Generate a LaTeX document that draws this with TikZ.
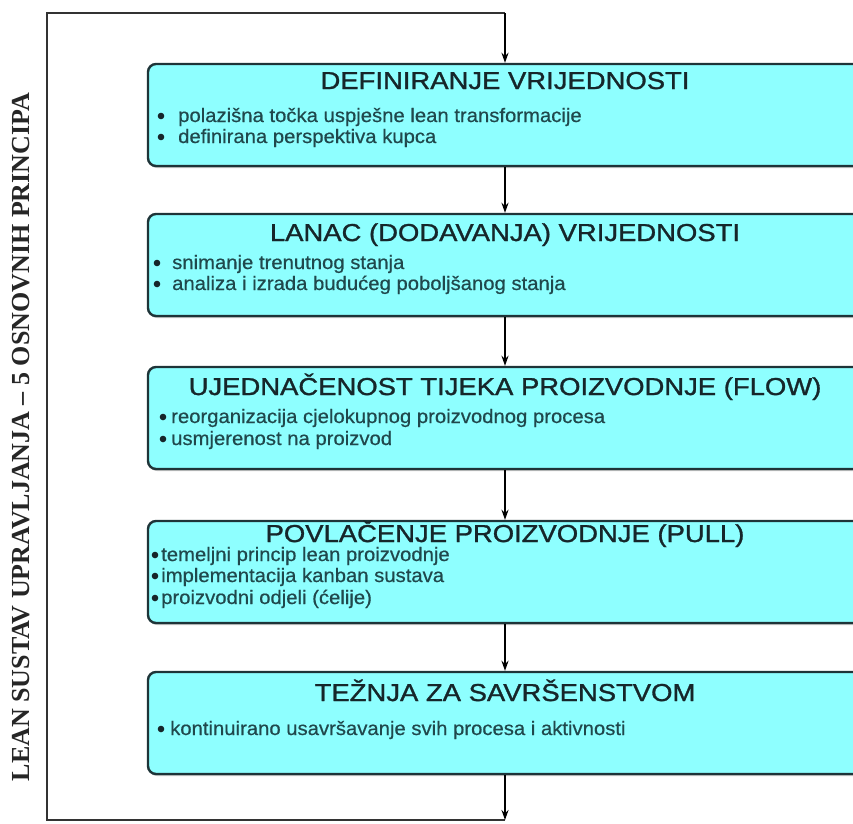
\documentclass[tikz,border=0pt]{standalone}
\usepackage{fontspec}
\setmainfont{Liberation Sans}
\newfontfamily\sidefont{Liberation Serif}
\newfontfamily\titlefont[FakeStretch=1.12,FakeBold=1.2]{Liberation Sans}
\newfontfamily\itemfont[FakeStretch=1.04,FakeBold=0.5]{Liberation Sans}
\usetikzlibrary{arrows.meta,shadows}
\definecolor{boxfill}{RGB}{142,255,255}
\definecolor{boxline}{RGB}{30,52,56}
\definecolor{txt}{RGB}{22,38,42}
\definecolor{itxt}{RGB}{32,72,76}
\begin{document}
\begin{tikzpicture}[x=1pt,y=-1pt,
 box/.style={draw=boxline, line width=2.4pt, fill=boxfill, rounded corners=8pt,
   minimum width=714pt, minimum height=102pt, inner sep=0pt,
   drop shadow={opacity=0.45, shadow xshift=1pt, shadow yshift=-2pt}},
 ttl/.style={font=\titlefont\fontsize{24.5}{28}\selectfont, text=txt, anchor=base, inner sep=0pt,
   text height=17pt, text depth=3pt},
 itm/.style={font=\itemfont\fontsize{19.5}{23}\selectfont, text=itxt, anchor=base west, inner sep=0pt,
   text height=13pt, text depth=3.5pt},
 dot/.style={fill=txt},
 conn/.style={draw=black, line width=1.6pt, -{Stealth[length=10pt,width=7pt]}},
 loopline/.style={draw=black!80, line width=2.4pt},
 side/.style={font=\sidefont\bfseries\fontsize{26}{30}\selectfont, text=black!85, rotate=90, inner sep=0pt}
]
\useasboundingbox (0,0) rectangle (853,823);
\begin{scope}
\clip (0,0) rectangle (853,823);

\node[box] (b1) at (505,115) {};
\node[box] (b2) at (505,265) {};
\node[box] (b3) at (505,418) {};
\node[box] (b4) at (505,572) {};
\node[box] (b5) at (505,723) {};

\node[ttl] (t1) at (505,89) {DEFINIRANJE VRIJEDNOSTI};
\node[itm] (i11) at (178,122) {polazišna točka uspješne lean transformacije};
\node[itm] (i12) at (178,143) {definirana perspektiva kupca};
\fill[dot] (161,116) circle (3.3pt);
\fill[dot] (161,137) circle (3.3pt);

\node[ttl] (t2) at (505,241) {LANAC (DODAVANJA) VRIJEDNOSTI};
\node[itm] (i21) at (172,269) {snimanje trenutnog stanja};
\node[itm] (i22) at (172,290) {analiza i izrada budućeg poboljšanog stanja};
\fill[dot] (157,263) circle (3.3pt);
\fill[dot] (157,284) circle (3.3pt);

\node[ttl] (t3) at (505,395) {UJEDNAČENOST TIJEKA PROIZVODNJE (FLOW)};
\node[itm] (i31) at (171,423) {reorganizacija cjelokupnog proizvodnog procesa};
\node[itm] (i32) at (171,445) {usmjerenost na proizvod};
\fill[dot] (163,417) circle (3.3pt);
\fill[dot] (163,439) circle (3.3pt);

\node[ttl] (t4) at (505,542) {POVLAČENJE PROIZVODNJE (PULL)};
\node[itm] (i41) at (161,561) {temeljni princip lean proizvodnje};
\node[itm] (i42) at (161,582) {implementacija kanban sustava};
\node[itm] (i43) at (161,604) {proizvodni odjeli (ćelije)};
\fill[dot] (155,555) circle (3.3pt);
\fill[dot] (155,576) circle (3.3pt);
\fill[dot] (155,598) circle (3.3pt);

\node[ttl] (t5) at (505,701) {TEŽNJA ZA SAVRŠENSTVOM};
\node[itm] (i51) at (170,735) {kontinuirano usavršavanje svih procesa i aktivnosti};
\fill[dot] (161,729) circle (3.3pt);

\coordinate (ltop) at (47,13);
\coordinate (rtop) at (505,13);
\coordinate (lbot) at (47,820);
\coordinate (rbot) at (505,820);

\draw[loopline] (rbot) -- (lbot) -- (ltop) -- (rtop);
\draw[conn] (rtop) -- (b1.north);
\draw[conn] (b1.south) -- (b2.north);
\draw[conn] (b2.south) -- (b3.north);
\draw[conn] (b3.south) -- (b4.north);
\draw[conn] (b4.south) -- (b5.north);
\draw[conn] (b5.south) -- (rbot);

\node[side] (lbl) at (21,437) {LEAN SUSTAV UPRAVLJANJA – 5 OSNOVNIH PRINCIPA};
\end{scope}
\end{tikzpicture}
\end{document}
